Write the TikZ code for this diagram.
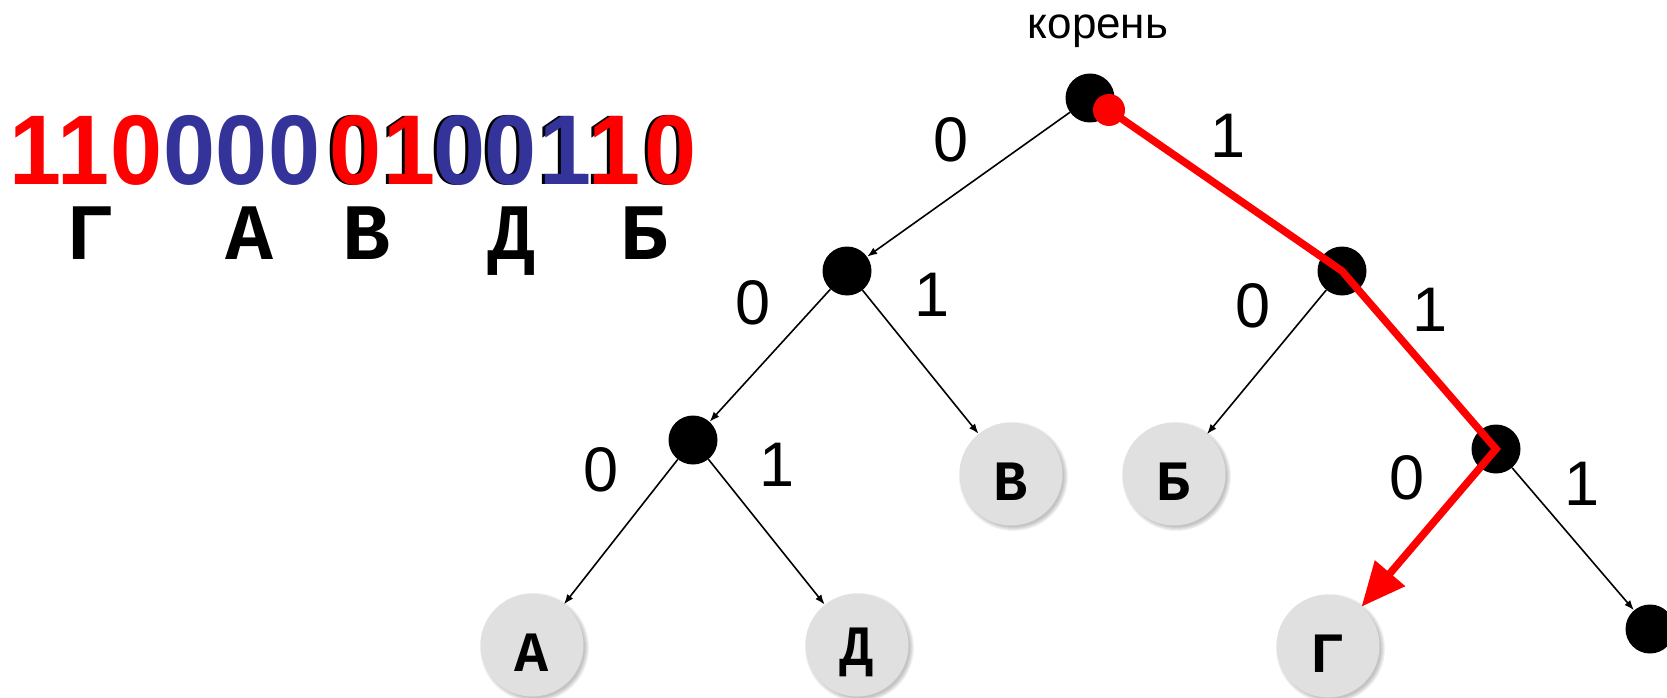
\documentclass[tikz,border=0pt]{standalone}
\usepackage{fontspec}
\setmainfont{Liberation Sans}
\newfontfamily\monofont{Liberation Mono}
\usetikzlibrary{arrows.meta}
\definecolor{codered}{RGB}{255,0,0}
\definecolor{codeblue}{RGB}{51,51,153}
\definecolor{leafgray}{RGB}{224,224,224}
\begin{document}
\begin{tikzpicture}[x=1pt,y=-1pt,
  innernode/.style={circle,fill=black,minimum size=49pt,inner sep=0pt},
  leafnode/.style={circle,fill=leafgray,minimum size=103pt,inner sep=0pt},
  leafletter/.style={inner sep=0pt,font=\monofont\bfseries\fontsize{57}{57}\selectfont},
  headletter/.style={inner sep=0pt,anchor=base,font=\monofont\bfseries\fontsize{80}{80}\selectfont},
  edgearrow/.style={draw=black,line width=1.6pt,-{Latex[length=10pt,width=7.5pt]}},
  bitlabel/.style={inner sep=0pt,font=\fontsize{63}{63}\selectfont},
  codedigit/.style={inner sep=0pt,anchor=base,xscale=0.945,font=\bfseries\fontsize{99}{99}\selectfont},
  redpath/.style={draw=codered,line width=7.5pt,line join=miter,-{Triangle[length=44pt,width=38pt]}}
]
\useasboundingbox (0,0) rectangle (1667,698);
\clip (0,0) rectangle (1667,698);

% code string: black shadows, then coloured digits
\foreach \x/\d [count=\i] in {356/0,410/1,459.5/0,510.5/0,566/1,615/1,671/0}{
  \node[codedigit,text=black] (s\i) at (\x-3,184) {\d};
}
\foreach \x/\d/\c [count=\i] in {36/1/codered,83.5/1/codered,137/0/codered,189.5/0/codeblue,241.5/0/codeblue,294.5/0/codeblue,356/0/codered,410/1/codered,459.5/0/codeblue,510.5/0/codeblue,566/1/codeblue,615/1/codered,671/0/codered}{
  \node[codedigit,text=\c] (c\i) at (\x,184) {\d};
}
\node[headletter] (hG) at (91,259) {Г};
\node[headletter] (hA) at (250,259) {А};
\node[headletter] (hV) at (366,259) {В};
\node[headletter] (hD) at (511,259) {Д};
\node[headletter] (hB) at (644,259) {Б};

% root label
\node[inner sep=0pt,anchor=base,font=\fontsize{44}{44}\selectfont] (rootlabel) at (1098,39) {корень};

% leaf shadows
\foreach \x/\y in {532/645,857/645,1011/474,1174/474,1328/646}{
  \foreach \k in {1,...,5}{
    \fill[black,opacity=0.05] (\x+2.5,\y+2.5) circle ({49.5+\k*1.0});
  }
}

% leaves
\node[leafnode] (A) at (532,645) {};
\node[leafnode] (D) at (857,645) {};
\node[leafnode] (V) at (1011,474) {};
\node[leafnode] (Bb) at (1174,474) {};
\node[leafnode] (G) at (1328,646) {};
\node[leafletter] (tA) at ([yshift=-7.5pt]A.center) {А};
\node[leafletter] (tD) at ([yshift=-7.5pt]D.center) {Д};
\node[leafletter] (tV) at ([yshift=-7.5pt]V.center) {В};
\node[leafletter] (tB) at ([yshift=-7.5pt]Bb.center) {Б};
\node[leafletter] (tG) at ([yshift=-7.5pt]G.center) {Г};

% inner nodes
\node[innernode] (root) at (1090,98) {};
\node[innernode] (L) at (847,271) {};
\node[innernode] (R) at (1342,271) {};
\node[innernode] (LL) at (693,440) {};
\node[innernode] (RR) at (1496,449) {};
\node[innernode] (RD) at (1650,629) {};

% edges
\draw[edgearrow] (root) -- (L);
\draw[edgearrow] (root) -- (R);
\draw[edgearrow] (L) -- (LL);
\draw[edgearrow] (L) -- (V);
\draw[edgearrow] (R) -- (Bb);
\draw[edgearrow] (R) -- (RR);
\draw[edgearrow] (LL) -- (A);
\draw[edgearrow] (LL) -- (D);
\draw[edgearrow] (RR) -- (G);
\draw[edgearrow] (RR) -- (RD);

% bit labels
\node[bitlabel] (b1) at (951,139.5) {0};
\node[bitlabel] (b2) at (1228,136) {1};
\node[bitlabel] (b3) at (753,303) {0};
\node[bitlabel] (b4) at (932,295) {1};
\node[bitlabel] (b5) at (1253,306) {0};
\node[bitlabel] (b6) at (1430,310) {1};
\node[bitlabel] (b7) at (601,470) {0};
\node[bitlabel] (b8) at (777,465) {1};
\node[bitlabel] (b9) at (1407,478) {0};
\node[bitlabel] (b10) at (1582,484) {1};

% red path
\node[circle,fill=codered,minimum size=32pt,inner sep=0pt] (rd) at (1109,110) {};
\draw[redpath] (rd.center) -- (R.center) -- (RR.center) -- (G);
\end{tikzpicture}
\end{document}
